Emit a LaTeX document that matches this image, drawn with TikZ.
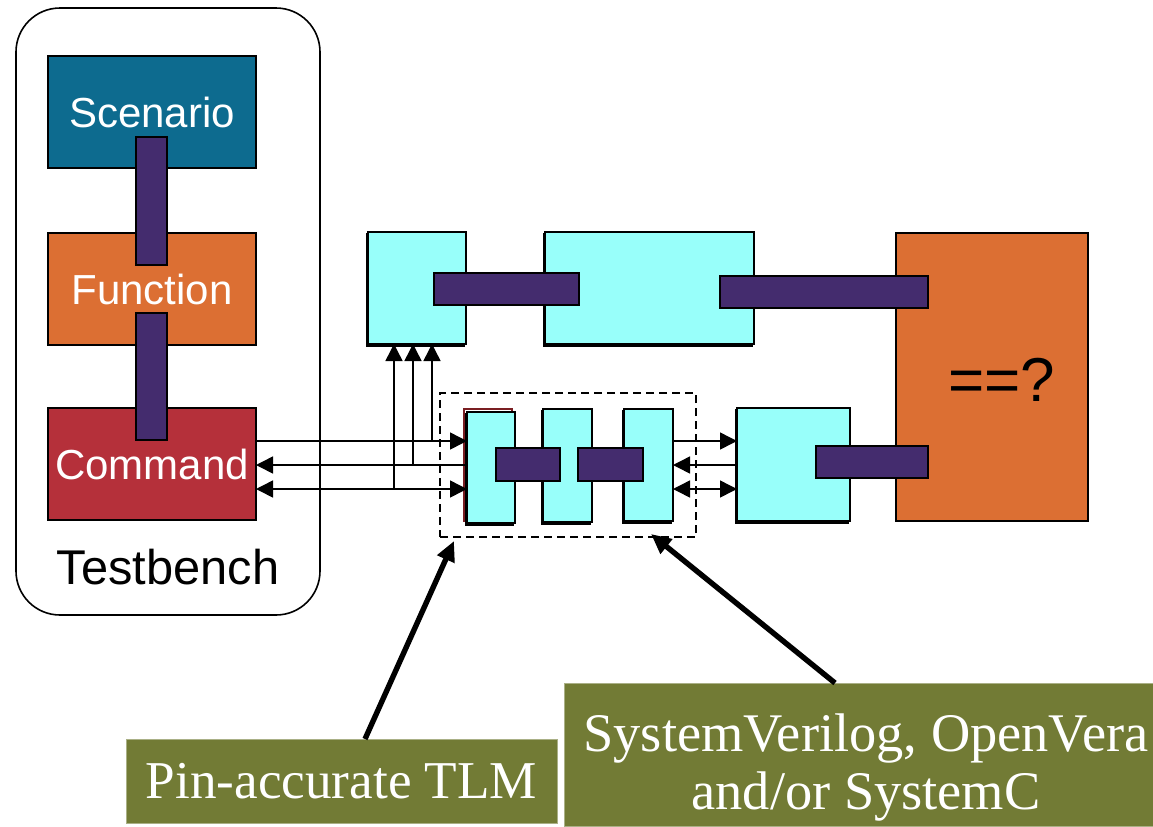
\documentclass[tikz,border=0pt]{standalone}
\usepackage{fontspec}
\setmainfont{Liberation Serif}
\setsansfont{Liberation Sans}
\usetikzlibrary{arrows.meta,calc}
\definecolor{scen}{HTML}{0D6B8F}
\definecolor{func}{HTML}{DC6F33}
\definecolor{cmdc}{HTML}{B5303A}
\definecolor{purp}{HTML}{442C6E}
\definecolor{cyanb}{HTML}{98FFFA}
\definecolor{olive}{HTML}{727B35}
\definecolor{darkred}{HTML}{7A1E22}
\newcommand\rectnode[7]{\node[#6, minimum width={(#4-#2)*0.5pt}, minimum height={(#5-#3)*0.5pt}] (#1) at ({(#2+#4)/2},{(#3+#5)/2}) {#7};}
\newcommand\cyanbox[5]{\fill[black] (#2-2.5,#3+1) rectangle (#4-1,#5+2.5);\rectnode{#1}{#2}{#3}{#4}{#5}{cy}{}}
\begin{document}
\begin{tikzpicture}[x=0.5pt,y=-0.5pt,
  base/.style={rectangle, inner sep=0pt, outer sep=0pt},
  colbox/.style={base, draw=black, line width=0.6pt, text=white, font=\sffamily\fontsize{21}{25}\selectfont},
  bar/.style={base, fill=purp, draw=black, line width=1pt},
  cy/.style={base, fill=cyanb, draw=black, line width=0.6pt},
  sig/.style={line width=0.75pt},
  sigarr/.style={sig, -{Triangle[length=8.5pt,width=8.5pt]}},
  sigback/.style={sig, {Triangle[length=8.5pt,width=8.5pt]}-},
  sigboth/.style={sig, {Triangle[length=8.5pt,width=8.5pt]}-{Triangle[length=8.5pt,width=8.5pt]}},
  callout/.style={base, fill=olive, draw=olive!60!white, line width=0.5pt, text=white, align=center, font=\fontsize{27.2}{29}\selectfont},
  pointer/.style={line width=2.7pt, -{Triangle[length=10pt,width=9pt]}}]
\useasboundingbox (0,0) rectangle (1153,826);

% Testbench
\rectnode{tb}{16}{8}{320}{615}{base, draw=black, line width=0.8pt, rounded corners=22pt}{}
\rectnode{scen}{48}{56}{256}{168}{colbox, fill=scen}{Scenario}
\rectnode{func}{48}{233}{256}{345}{colbox, fill=func}{Function}
\rectnode{cmd}{48}{408}{256}{520}{colbox, fill=cmdc}{Command}
\rectnode{c1}{136}{137}{167}{265}{bar}{}
\rectnode{c2}{136}{313}{167}{440}{bar}{}
\node[font=\sffamily\fontsize{24.4}{28}\selectfont] (tblabel) at (168,567) {Testbench};

% upper right chain
\cyanbox{ba}{368}{232}{466}{344}
\cyanbox{bb}{545}{232}{754}{344}
\rectnode{orng}{896}{233}{1088}{521}{base, fill=func, draw=black, line width=0.8pt}{}
\node[font=\sffamily\fontsize{31}{36}\selectfont] (eq) at (1002,380) {==?};
\cyanbox{bc}{737}{408}{850}{521}
\rectnode{pab}{434}{273}{579}{305}{bar}{}
\rectnode{pbo}{720}{276}{928}{308}{bar}{}
\rectnode{pco}{816}{446}{928}{478}{bar}{}

% pin-accurate TLM group
\draw[darkred, line width=0.8pt] (464,409) rectangle (512,521);
\cyanbox{d1}{467}{412}{515}{523}
\cyanbox{d2}{543}{409}{592}{522}
\cyanbox{d3}{624}{409}{673}{521}
\rectnode{p12}{496}{448}{560}{481}{bar}{}
\rectnode{p23}{578}{448}{643}{481}{bar}{}
\rectnode{dash}{440}{393}{696}{537}{base, draw=black, line width=0.75pt, dash pattern=on 4pt off 2.5pt}{}

% signals Command <-> TLM
\draw[sigarr] (cmd.east |- 0,441) -- (d1.west |- 0,441);
\draw[sigback] (cmd.east |- 0,465) -- (d1.west |- 0,465);
\draw[sigboth] (cmd.east |- 0,489) -- (d1.west |- 0,489);
\draw[sigarr] (432,441) -- (ba.south -| 432,0);
\draw[sigarr] (413,465) -- (ba.south -| 413,0);
\draw[sigarr] (394,489) -- (ba.south -| 394,0);

% signals TLM <-> monitor
\draw[sigarr] (d3.east |- 0,441) -- (bc.west |- 0,441);
\draw[sigback] (d3.east |- 0,465) -- (bc.west |- 0,465);
\draw[sigboth] (d3.east |- 0,489) -- (bc.west |- 0,489);

% callouts
\rectnode{pin}{126}{739}{557}{823}{callout, font=\fontsize{26.6}{29}\selectfont}{Pin-accurate TLM}
\rectnode{sv}{564}{683}{1153}{826}{callout}{}
\node[callout, fill=none, draw=none] (svtext) at (866,767) {SystemVerilog, OpenVera\\and/or SystemC};
\coordinate (t1) at (454,541);
\coordinate (t2) at (651,534);
\draw[pointer] (pin.north -| 365,0) -- (t1);
\draw[pointer] (sv.north -| 835,0) -- (t2);
\end{tikzpicture}
\end{document}
